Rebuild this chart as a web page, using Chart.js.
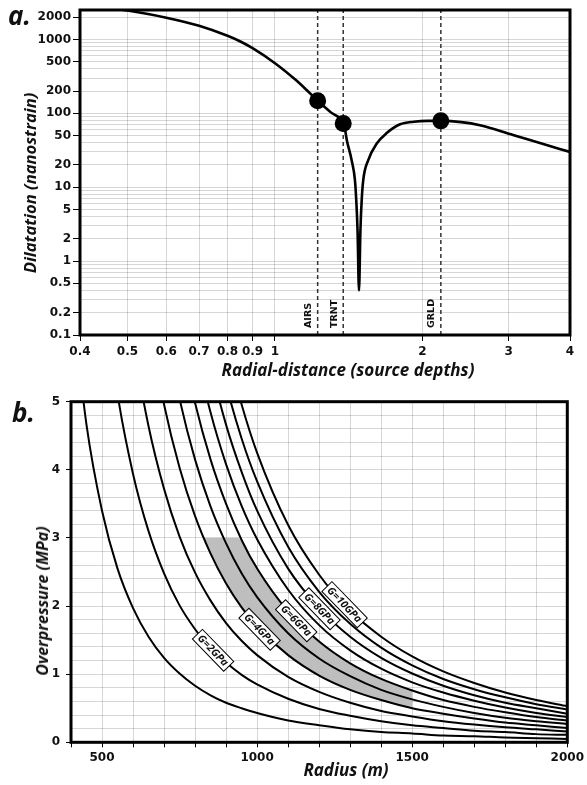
<!DOCTYPE html>
<html lang="en">
<head>
<meta charset="UTF-8">
<title>Dilatation and overpressure</title>
<script src="https://cdn.jsdelivr.net/npm/chart.js"></script>
<style>
  body { margin: 0; background: #fff; width: 587px; height: 785px; position: relative; overflow: hidden; font-family: 'Open Sans', sans-serif; }
  canvas { position: absolute; left: 0; }
  #topChart { top: 0; }
  #botChart { top: 385px; }
  .lbl { position: absolute; font-weight: 700; font-style: italic; color: #111; white-space: nowrap; line-height: 1; }
  .panel { font-size: 26px; }
  .xtitle { font-size: 17px; transform: translateX(-50%); }
  .ytitle { font-size: 16px; transform: translate(-50%, -50%) rotate(-90deg); }
</style>
</head>
<body>

<canvas id="topChart" width="587" height="385"></canvas>
<canvas id="botChart" width="587" height="400"></canvas>

<div class="lbl panel" style="left:8px; top:2px;">a.</div>
<div class="lbl panel" style="left:12px; top:399px;">b.</div>
<div class="lbl xtitle" style="left:348px; top:361px;">Radial-distance (source depths)</div>
<div class="lbl xtitle" style="left:346px; top:761px;">Radius (m)</div>
<div class="lbl ytitle" style="left:30px; top:183px; font-size:16.6px;">Dilatation (nanostrain)</div>
<div class="lbl ytitle" style="left:42px; top:601px;">Overpressure (MPa)</div>

<script>
  // panel a: dilatation vs radial distance
  const distX = [0.45, 0.5, 0.6, 0.7, 0.8, 0.85, 0.9, 1.0, 1.1, 1.16, 1.222, 1.3, 1.378, 1.39, 1.401, 1.434, 1.456,
                 1.465, 1.474, 1.484, 1.494, 1.503, 1.514, 1.55, 1.613, 1.69, 1.8, 1.92, 2.05, 2.18, 2.4, 2.62, 3.06, 3.5, 4.0];
  const dilatation = [2700, 2460, 1970, 1530, 1120, 937, 760, 476, 286, 207, 148, 103, 73, 60, 44, 23, 12.5,
                      6.7, 2.6, 0.4, 2.6, 6.7, 12.5, 23.3, 39, 54, 71, 77, 79, 79, 76, 69, 51, 39, 30];
  const stationNames = ['AIRS', 'TRNT', 'GRLD'];
  const stationX = [1.222, 1.378, 2.18];
  const stationY = [148, 73, 79];
  const xTicksA = [0.4, 0.5, 0.6, 0.7, 0.8, 0.9, 1, 2, 3, 4];
  const yLabelsA = [0.1, 0.2, 0.5, 1, 2, 5, 10, 20, 50, 100, 200, 500, 1000, 2000];

  // panel b: overpressure vs radius, one curve per shear modulus
  const radii = [400, 450, 500, 550, 600, 650, 700, 750, 800, 850, 900, 950, 1000, 1100, 1200, 1300, 1400, 1500, 1600, 1700, 1800, 1900, 2000];
  const g1  = [6.64, 4.66, 3.40, 2.55, 1.97, 1.55, 1.24, 1.01, 0.83, 0.69, 0.58, 0.50, 0.43, 0.32, 0.25, 0.19, 0.15, 0.13, 0.10, 0.09, 0.07, 0.06, 0.05];
  const g2  = [null, 9.33, 6.80, 5.11, 3.94, 3.10, 2.48, 2.01, 1.66, 1.38, 1.17, 0.99, 0.85, 0.64, 0.49, 0.39, 0.31, 0.25, 0.21, 0.17, 0.15, 0.12, 0.11];
  const g3  = [null, null, 10.20, 7.66, 5.90, 4.64, 3.72, 3.02, 2.49, 2.08, 1.75, 1.49, 1.28, 0.96, 0.74, 0.58, 0.46, 0.38, 0.31, 0.26, 0.22, 0.19, 0.16];
  const g4  = [null, null, null, 10.22, 7.87, 6.19, 4.96, 4.03, 3.32, 2.77, 2.33, 1.98, 1.70, 1.28, 0.98, 0.77, 0.62, 0.50, 0.42, 0.35, 0.29, 0.25, 0.21];
  const g5  = [null, null, null, null, 9.84, 7.74, 6.20, 5.04, 4.15, 3.46, 2.92, 2.48, 2.13, 1.60, 1.23, 0.97, 0.77, 0.63, 0.52, 0.43, 0.36, 0.31, 0.27];
  const g6  = [null, null, null, null, 11.81, 9.29, 7.43, 6.04, 4.98, 4.15, 3.50, 2.97, 2.55, 1.92, 1.48, 1.16, 0.93, 0.76, 0.62, 0.52, 0.44, 0.37, 0.32];
  const g7  = [null, null, null, null, null, 10.84, 8.67, 7.05, 5.81, 4.84, 4.08, 3.47, 2.98, 2.24, 1.72, 1.35, 1.08, 0.88, 0.73, 0.61, 0.51, 0.43, 0.37];
  const g8  = [null, null, null, null, null, null, 9.91, 8.06, 6.64, 5.54, 4.66, 3.97, 3.40, 2.55, 1.97, 1.55, 1.24, 1.01, 0.83, 0.69, 0.58, 0.50, 0.42];
  const g9  = [null, null, null, null, null, null, 11.15, 9.06, 7.47, 6.23, 5.25, 4.46, 3.83, 2.87, 2.21, 1.74, 1.39, 1.13, 0.93, 0.78, 0.66, 0.56, 0.48];
  const g10 = [null, null, null, null, null, null, null, 10.07, 8.30, 6.92, 5.83, 4.96, 4.25, 3.19, 2.46, 1.93, 1.55, 1.26, 1.04, 0.87, 0.73, 0.62, 0.53];
  const gCurves = [g1, g2, g3, g4, g5, g6, g7, g8, g9, g10];

  // shaded band (lower edge then upper edge)
  const shadeLowR = [827, 850, 900, 950, 1000, 1050, 1100, 1150, 1200, 1250, 1300, 1350, 1400, 1450, 1500];
  const shadeLowP = [3.0, 2.77, 2.33, 1.98, 1.70, 1.47, 1.28, 1.12, 0.98, 0.87, 0.77, 0.69, 0.62, 0.56, 0.50];
  const shadeTopR = [940, 950, 1000, 1050, 1100, 1150, 1200, 1250, 1300, 1350, 1400, 1450, 1500];
  const shadeTopP = [3.0, 2.95, 2.55, 2.20, 1.92, 1.68, 1.48, 1.31, 1.16, 1.04, 0.93, 0.84, 0.76];

  const curveLabels = ['G=2GPa', 'G=4GPa', 'G=6GPa', 'G=8GPa', 'G=10GPa'];
  const labelR = [858, 1008, 1126, 1201, 1282];
  const labelP = [1.35, 1.66, 1.785, 1.96, 2.02];

  const tickFont = { family: 'DejaVu Sans', weight: 'bold', size: 12 };
  const gridGray = 'rgba(0,0,0,0.16)';

  const framePlugin = {
    id: 'frame',
    afterDatasetsDraw(chart) {
      const { ctx, chartArea: a } = chart;
      ctx.save();
      ctx.strokeStyle = '#000';
      ctx.lineWidth = 3;
      ctx.strokeRect(a.left, a.top, a.right - a.left, a.bottom - a.top);
      ctx.restore();
    }
  };

  const stationLabels = {
    id: 'stationLabels',
    afterDraw(chart) {
      const { ctx, chartArea: a } = chart;
      const xs = chart.scales.x;
      ctx.save();
      ctx.font = 'bold 9.5px "DejaVu Sans"';
      ctx.fillStyle = '#111';
      ctx.textAlign = 'left';
      ctx.textBaseline = 'middle';
      stationNames.forEach((name, i) => {
        const px = xs.getPixelForValue(stationX[i]) - 9;
        ctx.save();
        ctx.translate(px, a.bottom - 7);
        ctx.rotate(-Math.PI / 2);
        ctx.fillText(name, 0, 0);
        ctx.restore();
      });
      ctx.restore();
    }
  };

  const gLabels = {
    id: 'gLabels',
    afterDatasetsDraw(chart) {
      const { ctx } = chart;
      const xs = chart.scales.x, ys = chart.scales.y;
      ctx.save();
      ctx.font = 'italic bold 10.5px "Open Sans"';
      ctx.textAlign = 'center';
      ctx.textBaseline = 'middle';
      curveLabels.forEach((t, i) => {
        const px = xs.getPixelForValue(labelR[i]);
        const py = ys.getPixelForValue(labelP[i]);
        const w = ctx.measureText(t).width + 6;
        ctx.save();
        ctx.translate(px, py);
        ctx.rotate(0.8);
        ctx.fillStyle = '#fff';
        ctx.fillRect(-w / 2, -7, w, 14);
        ctx.strokeStyle = '#000';
        ctx.lineWidth = 1;
        ctx.strokeRect(-w / 2, -7, w, 14);
        ctx.fillStyle = '#111';
        ctx.fillText(t, 0, 0.5);
        ctx.restore();
      });
      ctx.restore();
    }
  };

  // ---- panel a ----
  const yMinor = [];
  for (let k = -1; k <= 3; k++) {
    for (let m = 1; m <= 9; m++) {
      const v = m * Math.pow(10, k);
      if (v <= 2500) yMinor.push(v);
    }
  }
  const isLabelA = v => yLabelsA.some(l => Math.abs(l - v) / l < 1e-6);

  const topDatasets = [
    {
      data: stationX.map((x, i) => ({ x: x, y: stationY[i] })),
      pointRadius: 8.5, pointBackgroundColor: '#000', pointBorderWidth: 0, showLine: false
    },
    {
      data: distX.map((x, i) => ({ x: x, y: dilatation[i] })),
      showLine: true, borderColor: '#000', borderWidth: 2.6, pointRadius: 0,
      cubicInterpolationMode: 'monotone'
    }
  ];
  stationX.forEach(x => {
    topDatasets.push({
      data: [{ x: x, y: 0.1 }, { x: x, y: 2500 }],
      showLine: true, borderColor: '#333', borderWidth: 1.5, borderDash: [4, 3], pointRadius: 0
    });
  });

  new Chart(document.getElementById('topChart'), {
    type: 'scatter',
    data: { datasets: topDatasets },
    options: {
      responsive: false,
      animation: false,
      layout: { padding: { top: 10, right: 17, left: 0, bottom: 0 } },
      plugins: { legend: { display: false }, tooltip: { enabled: false } },
      scales: {
        x: {
          type: 'logarithmic', min: 0.4, max: 4,
          afterBuildTicks: s => { s.ticks = xTicksA.map(v => ({ value: v })); },
          afterFit: s => { s.height = 50; },
          ticks: { autoSkip: false, maxRotation: 0, padding: 4, color: '#111', font: tickFont,
                   callback: v => String(v) },
          grid: { color: gridGray, tickColor: '#000', tickLength: 6 },
          border: { display: false }
        },
        y: {
          type: 'logarithmic', min: 0.1, max: 2500,
          afterBuildTicks: s => { s.ticks = yMinor.map(v => ({ value: v })); },
          afterFit: s => { s.width = 80; },
          ticks: { autoSkip: false, padding: 2, color: '#111', font: tickFont,
                   callback: v => isLabelA(v) ? String(+v.toPrecision(3)) : '' },
          grid: {
            color: gridGray,
            tickColor: c => isLabelA(c.tick.value) ? '#000' : 'rgba(0,0,0,0)',
            tickLength: 7
          },
          border: { display: false }
        }
      }
    },
    plugins: [framePlugin, stationLabels]
  });

  // ---- panel b ----
  const botDatasets = gCurves.map(vals => ({
    data: radii.map((r, i) => ({ x: r, y: vals[i] })).filter(p => p.y !== null),
    showLine: true, borderColor: '#000', borderWidth: 2, pointRadius: 0,
    cubicInterpolationMode: 'monotone'
  }));
  const shadePts = shadeLowR.map((r, i) => ({ x: r, y: shadeLowP[i] }))
    .concat(shadeTopR.map((r, i) => ({ x: r, y: shadeTopP[i] })).reverse());
  botDatasets.push({
    data: shadePts,
    showLine: true, borderWidth: 0, borderColor: 'rgba(0,0,0,0)', pointRadius: 0,
    backgroundColor: 'rgb(190,190,190)', fill: 'shape', tension: 0
  });

  new Chart(document.getElementById('botChart'), {
    type: 'scatter',
    data: { datasets: botDatasets },
    options: {
      responsive: false,
      animation: false,
      layout: { padding: { top: 16.7, right: 18, left: 0, bottom: 0 } },
      plugins: { legend: { display: false }, tooltip: { enabled: false } },
      scales: {
        x: {
          type: 'linear', min: 400, max: 2000,
          afterFit: s => { s.height = 42.7; },
          ticks: { stepSize: 100, autoSkip: false, maxRotation: 0, padding: 3, color: '#111', font: tickFont,
                   callback: v => (v % 500 === 0 ? String(v) : '') },
          grid: { color: gridGray, tickColor: '#000', tickLength: 5 },
          border: { display: false }
        },
        y: {
          type: 'linear', min: 0, max: 5,
          afterFit: s => { s.width = 71; },
          ticks: { stepSize: 0.2, autoSkip: false, padding: 6, color: '#111', font: tickFont,
                   callback: v => (Math.abs(v - Math.round(v)) < 1e-6 ? String(Math.round(v)) : '') },
          grid: {
            color: gridGray,
            tickColor: c => (Math.abs(c.tick.value - Math.round(c.tick.value)) < 1e-6 ? '#000' : 'rgba(0,0,0,0)'),
            tickLength: 5
          },
          border: { display: false }
        }
      }
    },
    plugins: [framePlugin, gLabels]
  });
</script>

</body>
</html>
